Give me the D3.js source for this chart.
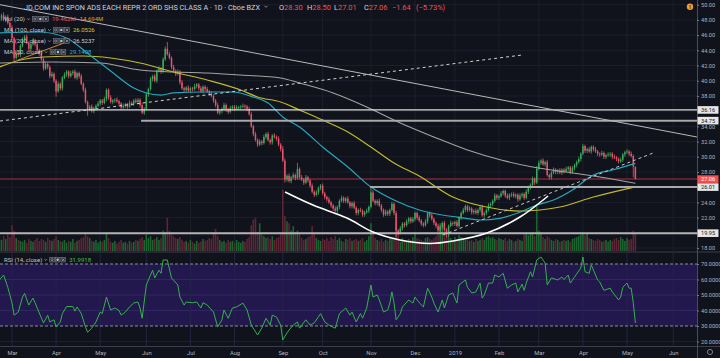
<!DOCTYPE html>
<html><head><meta charset="utf-8">
<script src="https://cdn.jsdelivr.net/npm/d3@7"></script>
<style>
body{margin:0;background:#10121c;}
svg text{font-family:Roboto,"Noto Sans",sans-serif;}
</style></head>
<body><svg id="c" width="720" height="358"></svg>
<script>
// ---------------- DATA ----------------
const firstIndex = -6;          // first bar = 21 Feb 2018 (index 0 = 1 Mar 2018)
const firstOpen = 47.8;
const closes = [
48.2,48.6,48.0,48.4,47.6,47.0,45.6,43.0,43.6,43.4,
44.6,45.4,45.8,45.0,44.2,44.8,45.3,44.8,44.0,43.6,
42.8,41.6,42.2,41.8,40.6,40.9,40.0,38.6,39.6,39.0,
40.4,40.8,41.2,40.6,41.0,41.2,40.4,41.0,40.6,39.6,
38.8,37.2,36.2,36.6,36.0,36.4,36.7,37.0,37.4,37.1,
37.6,38.8,37.8,37.2,37.4,37.5,37.3,37.0,36.5,36.7,
36.9,36.6,37.1,37.0,37.4,37.2,37.5,36.8,35.8,36.3,
38.2,38.9,40.2,40.6,40.0,41.3,41.6,41.2,42.8,44.2,
43.5,43.0,41.8,41.3,40.9,41.2,39.8,39.0,38.8,39.1,
38.7,39.0,38.9,39.3,39.5,39.0,38.6,39.2,38.9,38.6,
38.3,38.0,37.4,36.8,35.8,36.0,36.3,36.8,36.2,35.9,
36.4,36.6,36.3,36.5,36.5,36.6,36.7,36.6,36.3,35.6,
34.0,33.0,32.2,31.6,32.0,31.8,32.6,33.0,32.2,31.9,
32.8,32.6,32.4,31.6,31.0,29.5,27.0,27.5,26.8,27.3,
27.6,27.2,28.4,27.3,27.0,26.6,27.3,26.9,26.2,25.4,
25.0,25.3,25.9,26.2,25.2,24.7,24.4,24.0,23.6,23.2,
22.9,23.4,24.2,24.6,24.2,24.5,24.0,23.5,23.9,23.3,
22.6,23.0,22.9,22.4,22.7,22.9,23.4,25.3,24.2,23.9,
24.2,23.6,23.0,22.4,22.8,22.5,23.0,23.8,22.6,20.3,
20.0,20.6,21.2,21.0,21.5,21.9,21.5,21.8,22.6,22.0,
21.6,21.2,21.0,21.5,22.6,22.3,21.8,21.3,20.9,20.3,
20.8,21.3,20.4,19.8,20.9,21.3,21.2,21.4,20.9,22.0,
22.6,23.0,23.5,23.0,23.2,22.7,22.9,22.6,23.0,23.4,
22.3,22.6,23.0,23.6,23.8,24.2,24.9,24.6,24.8,25.2,
25.5,24.9,24.6,25.0,25.1,24.8,25.0,24.4,24.9,25.1,
24.6,25.4,26.0,26.3,27.1,26.6,28.4,29.2,29.5,29.0,
29.3,27.6,27.3,27.9,28.3,28.0,28.2,27.9,28.3,28.1,
28.4,28.6,28.0,28.5,28.9,29.3,29.7,30.4,31.4,30.8,
31.0,30.7,31.3,31.0,30.7,30.4,30.3,30.5,30.0,30.2,
30.3,30.4,30.0,29.9,29.7,29.4,29.6,30.3,30.6,30.7,
30.4,30.1,28.7,27.06
];
// wick lengths above / below the body, in tenths of a dollar
const wickUp = [
3,2,4,2,3,2,3,2,3,2, 2,3,2,3,2,2,3,2,3,2, 3,2,3,2,2,3,2,2,3,2, 2,3,2,2,3,2,3,2,2,3,
2,3,2,2,3,2,2,3,2,2, 3,2,2,3,2,2,3,2,2,3, 2,2,3,2,2,3,2,2,3,2, 3,2,3,2,3,2,3,2,3,3,
9,3,2,3,2,3,2,3,2,2, 3,2,2,3,2,2,3,2,2,3, 2,3,2,2,3,2,2,3,2,2, 3,2,2,3,2,2,3,2,2,3,
3,2,3,2,3,2,3,2,3,2, 2,3,2,3,2,4,3,2,3,2, 3,2,8,2,3,2,3,2,2,3, 2,3,2,2,3,2,2,3,2,2,
3,2,2,3,2,2,3,2,2,3, 2,2,3,2,2,3,2,6,3,2, 2,3,2,2,3,2,2,3,2,3, 2,3,2,2,3,2,2,3,2,2,
3,2,2,3,2,2,3,2,2,3, 2,2,3,2,2,3,2,2,3,2, 2,3,2,2,3,2,2,3,2,2, 3,2,2,3,2,2,3,2,2,3,
2,2,3,2,2,3,2,2,3,2, 2,3,2,2,3,2,4,3,2,3, 2,3,2,2,3,2,2,3,2,2, 3,2,2,3,2,2,3,2,3,2,
2,3,2,2,3,2,2,3,2,2, 3,2,2,3,2,2,3,2,2,3, 2,3,2,0
];
const wickDn = [
2,3,2,3,2,3,2,4,2,3, 3,2,3,2,3,3,2,3,2,3, 2,3,2,3,3,2,3,7,2,3, 3,2,3,3,2,3,2,3,3,2,
3,2,8,2,2,3,3,2,3,3, 2,3,3,2,3,3,2,3,3,2, 3,3,2,3,3,2,3,3,2,3, 2,3,2,3,2,3,2,3,2,2,
2,2,3,2,3,2,3,2,3,3, 2,3,3,2,3,3,2,3,3,2, 3,2,3,3,2,3,3,2,3,3, 2,3,3,2,3,3,2,3,3,2,
2,3,2,3,2,3,2,3,2,3, 3,2,3,2,3,2,4,3,2,3, 2,3,2,3,2,3,2,3,3,2, 3,2,3,3,2,3,3,2,3,3,
2,3,3,2,3,3,2,3,3,2, 3,3,2,3,3,2,3,2,2,3, 3,2,3,3,2,3,3,2,3,9, 3,2,3,3,2,3,3,2,3,3,
2,3,3,2,3,3,2,3,3,2, 3,3,2,4,3,2,3,3,2,3, 3,2,3,3,2,3,3,2,3,3, 2,3,3,2,3,3,2,3,3,2,
3,3,2,3,3,2,3,3,2,3, 3,2,3,3,2,3,2,2,3,2, 3,2,3,3,2,3,3,2,3,3, 2,3,3,2,3,3,2,3,2,3,
3,2,3,3,2,3,3,2,3,3, 2,3,3,2,3,3,2,3,3,2, 3,2,14,0
];
// volume, millions of shares
const volumes = [
14,12,16,13,18,15,28,22,14,12, 11,10,12,9,13,11,10,12,14,11, 13,12,10,14,12,11,13,16,12,11,
10,12,9,11,10,13,9,11,12,14, 15,19,16,14,11,10,12,9,11,10, 12,19,14,10,9,11,8,10,12,9,
10,8,11,9,10,12,11,13,15,12, 18,14,16,12,13,15,12,14,22,20, 36,22,18,16,14,13,15,12,10,11,
9,12,10,8,11,9,10,13,11,12, 14,13,20,24,16,12,10,11,9,12, 10,11,9,12,10,9,11,10,13,15,
28,34,36,20,30,18,16,14,15,13, 16,12,14,15,18,66,38,32,30,22, 27,20,22,18,14,12,13,15,16,27,
18,14,12,11,13,12,14,11,15,13, 16,12,14,11,10,13,12,14,11,12, 13,11,12,14,10,12,16,30,20,14,
12,11,13,10,12,11,14,13,15,30, 22,10,14,12,11,13,12,15,20,14, 13,12,11,14,15,13,12,14,16,18,
30,28,22,16,18,14,12,15,13,17, 15,14,12,13,11,12,10,13,11,12, 14,12,15,16,14,15,13,12,14,13,
12,14,11,13,12,10,11,13,12,11, 18,20,17,19,20,16,50,22,20,15, 13,16,14,12,11,13,12,10,11,12,
11,12,10,13,14,15,16,18,20,17, 19,14,13,12,11,13,12,10,11,12, 10,12,11,13,14,12,15,13,11,14,
12,13,22,19.46
];
// moving averages: [bar index, price]
const ma50 = [[-6,46.28],[13,46.41],[26,45.62],[37,43.38],[47,41.28],[58,39.04],[64,38.39],[71,38.12],[77,38.39],[90,38.52],[105,38.52],[115,37.86],[122,37.07],[129,35.23],[137,33.91],[148,31.28],[160,28.65],[171,26.02],[182,24.31],[194,23.0],[205,22.34],[212,22.07],[223,21.68],[233,21.94],[241,22.6],[250,23.65],[258,24.31],[267,25.62],[277,27.6],[286,28.26],[297,29.14]];
const ma100 = [[-6,41.81],[4,42.73],[15,43.12],[34,43.25],[47,42.99],[61,42.33],[77,41.15],[93,40.10],[109,38.78],[117,37.86],[128,37.2],[137,36.15],[148,34.83],[160,33.26],[171,31.28],[182,29.18],[194,27.47],[210,24.71],[226,23.39],[242,22.86],[261,23.39],[277,24.71],[297,26.05]];
const ma200 = [[-6,42.33],[18,42.46],[42,42.33],[61,41.41],[77,41.15],[93,41.02],[109,40.75],[128,40.36],[137,39.70],[153,38.39],[169,36.55],[185,34.44],[201,32.60],[217,30.89],[233,29.58],[248,28.65],[264,27.99],[280,27.34],[297,26.52]];
// RSI(14): [bar index, value]
const rsiPoints = [[-6,59.7],[-4,62.9],[-2,55],[0,44.8],[1,37],[3,39],[5,48.7],[6,51],[8,43.5],[10,48],[11,45],[12,41.6],[15,32],[17,37],[18,32.6],[20,34],[21,29.4],[23,32.6],[24,38],[26,42.6],[29,42.6],[30,39.6],[31,42.3],[33,38],[35,29.4],[36,26],[38,28.6],[40,32.6],[42,39],[43,38],[45,48.7],[47,40.3],[49,41.6],[51,40],[52,37],[54,39],[56,42.3],[58,44.8],[60,45.5],[61,41.6],[62,35],[64,56.5],[67,66],[68,61],[70,66],[71,64],[72,72.6],[74,72.6],[76,61],[79,56.5],[80,48.7],[82,43.5],[83,45.5],[86,45],[88,45.5],[90,41.6],[91,45],[93,43.5],[96,39],[98,29.4],[100,34],[101,40.3],[103,35],[105,41.6],[107,42.3],[110,44.8],[112,40.3],[114,30.6],[117,24.2],[119,28.6],[121,35],[123,30.6],[124,37],[126,35.8],[128,30.6],[129,21],[131,25.5],[132,27.4],[134,30.6],[136,32.6],[137,28.6],[140,34],[142,30.6],[144,32],[147,38],[149,32.6],[151,30.6],[154,28.6],[156,38],[159,41.6],[161,37],[162,39],[164,32.6],[166,38],[167,35],[169,41.6],[171,56.5],[172,48.7],[174,50],[175,46.8],[177,39],[179,40.3],[180,44.8],[181,52],[182,45],[183,34],[185,38],[186,42.3],[189,46.8],[191,44.8],[192,48.7],[194,45],[196,42.3],[198,54.4],[200,48.7],[201,44.8],[203,39],[205,46.8],[206,41.6],[208,50],[210,51.3],[212,44.8],[213,56.5],[216,59.7],[217,55],[219,51.3],[221,52],[223,57.7],[224,48],[225,50],[227,57.7],[229,57.7],[230,62.9],[232,61.6],[234,64],[236,54.4],[238,56.5],[240,57.7],[241,52],[243,57],[244,53],[245,57.7],[247,65],[248,61.6],[250,72.6],[252,74.5],[254,70.6],[255,56.5],[257,61],[260,59.7],[262,61.6],[263,60],[265,62.9],[266,57.7],[268,61.6],[271,67.4],[272,74.5],[273,65],[275,64],[276,69.4],[279,59.7],[280,58.4],[282,53],[285,54.4],[286,52],[289,46.8],[290,48.7],[291,55],[293,57.7],[294,54.4],[295,54.4],[296,44.8],[297,31.99]];
// drawings: [bar index, price]
const trendDown = [[-5.7,50.0],[326.3,32.6]];
const trendUpDashed = [[-5.7,34.7],[243,43.38]];
const trendUpDashed2 = [[205.3,19.71],[305.4,30.49]];
const shortLine = [[2.9,42.73],[24.8,44.96]];
const arcPoints = [[130.1,25.37],[143.4,23.65],[159.6,21.94],[172,20.1],[184.8,19.05],[199.1,18.59],[210.1,18.92],[226.3,19.97],[242,22.07],[255.4,24.84]];
const levels = [{price:36.16,from:-6,color:"#dcdcdc",w:1.3},{price:34.75,from:61.5,color:"#a9a9a9",w:2},{price:26.01,from:170.6,color:"#a9a9a9",w:2},{price:19.95,from:-6,color:"#b4b4b4",w:2}];
const lastPrice = 27.06;
const priceTicks = [50,48,46,44,42,40,38,36,34,32,30,28,26,24,22,20,18];
const rsiTicks = [70,60,50,40,30,20];
const monthTicks = [["Mar",0],["Apr",21],["May",42],["Jun",64],["Jul",85],["Aug",106],["Sep",129],["Oct",148],["Nov",171],["Dec",192],["2019",211],["Feb",232],["Mar",251],["Apr",272],["May",293],["Jun",315]];
const titleText = "JD.COM INC SPON ADS EACH REPR 2 ORD SHS CLASS A · 1D · Cboe BZX";
const header = [["O","28.30"],["H","28.50"],["L","27.01"],["C","27.06"]];
const changeText = ["−1.64","(−5.73%)"];
const legendRows = [
  {label:"Vol (20)", vals:[["19.462M","#ef5350"],["14.694M","#e69b2e"]]},
  {label:"MA (100, close)", vals:[["26.0526","#d6ce2e"]]},
  {label:"MA (200, close)", vals:[["26.5237","#cfcfcf"]]},
  {label:"MA (50, close)", vals:[["29.1408","#2fb6c9"]]}
];
const rsiLegend = {label:"RSI (14, close)", val:"31.9918"};

// ---------------- LAYOUT ----------------
const W=720,H=358, PR=697, mainB=251, rsiT=253, rsiB=346;
const bg="#10121c", grid="#1c1f2c", upC="#3aab5c", dnC="#e9546b";
const svg=d3.select("#c");
svg.append("rect").attr("width",W).attr("height",H).attr("fill",bg);
const defs=svg.append("defs");
defs.append("clipPath").attr("id","cm").append("rect").attr("x",0).attr("y",0).attr("width",PR).attr("height",mainB);
defs.append("clipPath").attr("id","cr").append("rect").attr("x",0).attr("y",rsiT).attr("width",PR).attr("height",rsiB-rsiT);

const x=d3.scaleLinear().domain([0,293]).range([12,627]);
const y=d3.scaleLinear().domain([18,50]).range([248,4.7]);
const yv=d3.scaleLinear().domain([0,66]).range([mainB,190]);
const yr=d3.scaleLinear().domain([20,70]).range([341.5,264]);

const bars=closes.map((c,k)=>{const o=k?closes[k-1]:firstOpen;return {i:k+firstIndex,o,c,h:Math.max(o,c)+wickUp[k]/10,l:Math.min(o,c)-wickDn[k]/10,v:volumes[k]};});

// grid
const gm=svg.append("g").attr("clip-path","url(#cm)");
gm.selectAll(".hg").data(priceTicks).join("line").attr("x1",0).attr("x2",PR).attr("y1",d=>y(d)).attr("y2",d=>y(d)).attr("stroke",grid);
gm.selectAll(".vg").data(monthTicks).join("line").attr("x1",d=>x(d[1])).attr("x2",d=>x(d[1])).attr("y1",0).attr("y2",mainB).attr("stroke",grid);

// volume
gm.selectAll(".vol").data(bars).join("rect").attr("x",d=>x(d.i)-0.8).attr("width",1.6)
  .attr("y",d=>yv(d.v)).attr("height",d=>mainB-yv(d.v)).attr("fill",d=>d.c>=d.o?"#1c6430":"#5e2536");

// last price line
gm.append("line").attr("x1",0).attr("x2",PR).attr("y1",y(lastPrice)).attr("y2",y(lastPrice)).attr("stroke","#5d2232").attr("stroke-width",2);

// candles
gm.selectAll(".wk").data(bars).join("line").attr("x1",d=>x(d.i)).attr("x2",d=>x(d.i)).attr("y1",d=>y(d.h)).attr("y2",d=>y(d.l))
  .attr("stroke",d=>d.c>=d.o?upC:dnC).attr("stroke-width",0.8);
gm.selectAll(".bd").data(bars).join("rect").attr("x",d=>x(d.i)-0.75).attr("width",1.5)
  .attr("y",d=>y(Math.max(d.o,d.c))).attr("height",d=>Math.max(0.8,Math.abs(y(d.o)-y(d.c))))
  .attr("fill",d=>d.c>=d.o?upC:dnC);

// moving averages
const lg=d3.line().x(d=>x(d[0])).y(d=>y(d[1])).curve(d3.curveMonotoneX);
gm.append("path").attr("d",lg(ma200)).attr("fill","none").attr("stroke","#a3a3a3").attr("stroke-width",1.1);
gm.append("path").attr("d",lg(ma100)).attr("fill","none").attr("stroke","#c2bb2a").attr("stroke-width",1.2);
gm.append("path").attr("d",lg(ma50)).attr("fill","none").attr("stroke","#25a8bb").attr("stroke-width",1.2);

// drawings
const ll=d3.line().x(d=>x(d[0])).y(d=>y(d[1]));
levels.forEach(l=>gm.append("line").attr("x1",x(l.from)).attr("x2",PR).attr("y1",y(l.price)).attr("y2",y(l.price)).attr("stroke",l.color).attr("stroke-width",l.w));
gm.append("path").attr("d",ll(trendDown)).attr("stroke","#b9b9b9").attr("stroke-width",1).attr("fill","none");
gm.append("path").attr("d",ll(trendUpDashed)).attr("stroke","#d0d0d0").attr("stroke-width",1).attr("stroke-dasharray","3,3").attr("fill","none");
gm.append("path").attr("d",ll(trendUpDashed2)).attr("stroke","#c8c8c8").attr("stroke-width",1).attr("stroke-dasharray","3,3").attr("fill","none");
gm.append("path").attr("d",ll(shortLine)).attr("stroke","#c98a35").attr("stroke-width",1).attr("fill","none");
gm.append("path").attr("d",d3.line().x(d=>x(d[0])).y(d=>y(d[1])).curve(d3.curveCatmullRom)(arcPoints)).attr("stroke","#ffffff").attr("stroke-width",1.6).attr("fill","none");

// separators
svg.append("line").attr("x1",0).attr("x2",W).attr("y1",252).attr("y2",252).attr("stroke","#3b3e4a");
svg.append("line").attr("x1",0).attr("x2",W).attr("y1",rsiB+0.5).attr("y2",rsiB+0.5).attr("stroke","#3b3e4a");
svg.append("line").attr("x1",PR+0.5).attr("x2",PR+0.5).attr("y1",0).attr("y2",H).attr("stroke","#4a4d58");

// RSI pane
const gr=svg.append("g").attr("clip-path","url(#cr)");
gr.append("rect").attr("x",0).attr("width",PR).attr("y",yr(70)).attr("height",yr(30)-yr(70)).attr("fill","#22184d");
gr.selectAll(".rg").data([60,50,40,20]).join("line").attr("x1",0).attr("x2",PR).attr("y1",d=>yr(d)).attr("y2",d=>yr(d)).attr("stroke",d=>d===20?grid:"#2e2860");
gr.selectAll(".rv").data(monthTicks).join("line").attr("x1",d=>x(d[1])).attr("x2",d=>x(d[1])).attr("y1",rsiT).attr("y2",rsiB).attr("stroke","#262548").attr("stroke-opacity",0.9);
gr.selectAll(".rd").data([70,30]).join("line").attr("x1",0).attr("x2",PR).attr("y1",d=>yr(d)).attr("y2",d=>yr(d)).attr("stroke","#8a8c98").attr("stroke-dasharray","3,2");
gr.append("path").attr("d",d3.line().x(d=>x(d[0])).y(d=>yr(d[1]))(rsiPoints)).attr("fill","none").attr("stroke","#34b24a").attr("stroke-width",1);

// price axis
const ax=svg.append("g").attr("transform",`translate(${PR},0)`).call(d3.axisRight(y).tickValues(priceTicks).tickFormat(d3.format(".2f")).tickSize(2).tickPadding(2));
ax.select(".domain").remove();
ax.selectAll("line").attr("stroke","#777a85");
ax.selectAll("text").attr("fill","#b2b5be").style("font-size","5.6px");
const ar=svg.append("g").attr("transform",`translate(${PR},0)`).call(d3.axisRight(yr).tickValues(rsiTicks).tickFormat(d3.format(".4f")).tickSize(2).tickPadding(2));
ar.select(".domain").remove();
ar.selectAll("line").attr("stroke","#777a85");
ar.selectAll("text").attr("fill","#b2b5be").style("font-size","5.6px");

// level labels
const tagData=levels.map(l=>({p:l.price,bg:"#e6e6e6",fg:"#131722"})).concat([{p:lastPrice,bg:"#ef5350",fg:"#ffffff"}]);
const tg=svg.selectAll(".tag").data(tagData).join("g").attr("transform",d=>`translate(${PR},${y(d.p)})`);
tg.append("rect").attr("x",0.5).attr("y",-3.8).attr("width",21).attr("height",7.6).attr("fill",d=>d.bg);
tg.append("text").attr("x",4).attr("y",2).attr("fill",d=>d.fg).style("font-size","5.6px").text(d=>d3.format(".2f")(d.p));

// time axis
const at=svg.append("g").attr("transform",`translate(0,${rsiB})`).call(d3.axisBottom(x).tickValues(monthTicks.map(d=>d[1])).tickFormat((d,i)=>monthTicks[i][0]).tickSize(0).tickPadding(5));
at.select(".domain").remove();
at.selectAll("text").attr("fill","#b2b5be").style("font-size","5.8px");

// warning icon + gear
svg.append("circle").attr("cx",690).attr("cy",6.7).attr("r",3.2).attr("fill","#f39c2c");
svg.append("text").attr("x",690).attr("y",8.8).attr("text-anchor","middle").attr("fill","#1a1a1a").style("font-size","5.5px").style("font-weight","bold").text("!");
svg.append("circle").attr("cx",710).attr("cy",352).attr("r",2.6).attr("fill","none").attr("stroke","#9598a1").attr("stroke-width",0.8);

// header
const tt=svg.append("text").attr("x",24).attr("y",9.5).attr("fill","#d1d4dc").style("font-size","8px").text(titleText);
const natural=tt.node().getComputedTextLength();
tt.style("font-size",(8*236/natural).toFixed(2)+"px");
const chev=(g,cx,cy,s)=>g.append("path").attr("d",`M${cx-s},${cy-s/2}L${cx},${cy+s/2}L${cx+s},${cy-s/2}`).attr("fill","none").attr("stroke","#b2b5be").attr("stroke-width",0.7);
chev(svg,266,6.5,1.6);
const hx=[279,307,334,364];
header.forEach((h,k)=>{const t=svg.append("text").attr("x",hx[k]).attr("y",9.5).style("font-size","7.4px");
  t.append("tspan").attr("fill","#d1d4dc").text(h[0]); t.append("tspan").attr("fill","#ef5350").text(h[1]);});
svg.append("text").attr("x",392).attr("y",9.5).attr("fill","#ef5350").style("font-size","7.4px").text(changeText[0]);
svg.append("text").attr("x",416).attr("y",9.5).attr("fill","#ef5350").style("font-size","7.4px").text(changeText[1]);

// legends
function icons(g,x0,yc){for(let k=0;k<3;k++){g.append("rect").attr("x",x0+k*5.6).attr("y",yc-2.6).attr("width",4.6).attr("height",4.6).attr("fill","#2a2d38").attr("stroke","#8c8f99").attr("stroke-width",0.5);}
  g.append("circle").attr("cx",x0+2.3).attr("cy",yc-0.3).attr("r",1.1).attr("fill","none").attr("stroke","#c0c0c0").attr("stroke-width",0.5);
  g.append("circle").attr("cx",x0+7.9).attr("cy",yc-0.3).attr("r",1.2).attr("fill","#c0c0c0");
  g.append("path").attr("d",`M${x0+12.3},${yc-1.6}L${x0+14.7},${yc+1}M${x0+14.7},${yc-1.6}L${x0+12.3},${yc+1}`).attr("stroke","#c0c0c0").attr("stroke-width",0.6);}
const rowY=[19.3,30.2,41.3,52.3];
const lg2=svg.append("g");
legendRows.forEach((r,k)=>{const yy=rowY[k];
  const t=lg2.append("text").attr("x",4).attr("y",yy+2).attr("fill","#c3c6ce").style("font-size","6px").text(r.label);
  const w=t.node().getComputedTextLength();
  chev(lg2,4+w+3.5,yy-0.2,1.3);
  const ix=4+w+7.5; icons(lg2,ix,yy);
  let vx=ix+19.5;
  r.vals.forEach(v=>{const tv=lg2.append("text").attr("x",vx).attr("y",yy+2).attr("fill",v[1]).style("font-size","6px").text(v[0]); vx+=tv.node().getComputedTextLength()+4;});
});
{const yy=260;const t=lg2.append("text").attr("x",4).attr("y",yy+2).attr("fill","#c3c6ce").style("font-size","6px").text(rsiLegend.label);
 const w=t.node().getComputedTextLength(); chev(lg2,4+w+3.5,yy-0.2,1.3); const ix=4+w+7.5; icons(lg2,ix,yy);
 lg2.append("text").attr("x",ix+19.5).attr("y",yy+2).attr("fill","#3cc24f").style("font-size","6px").text(rsiLegend.val);}
</script></body></html>
